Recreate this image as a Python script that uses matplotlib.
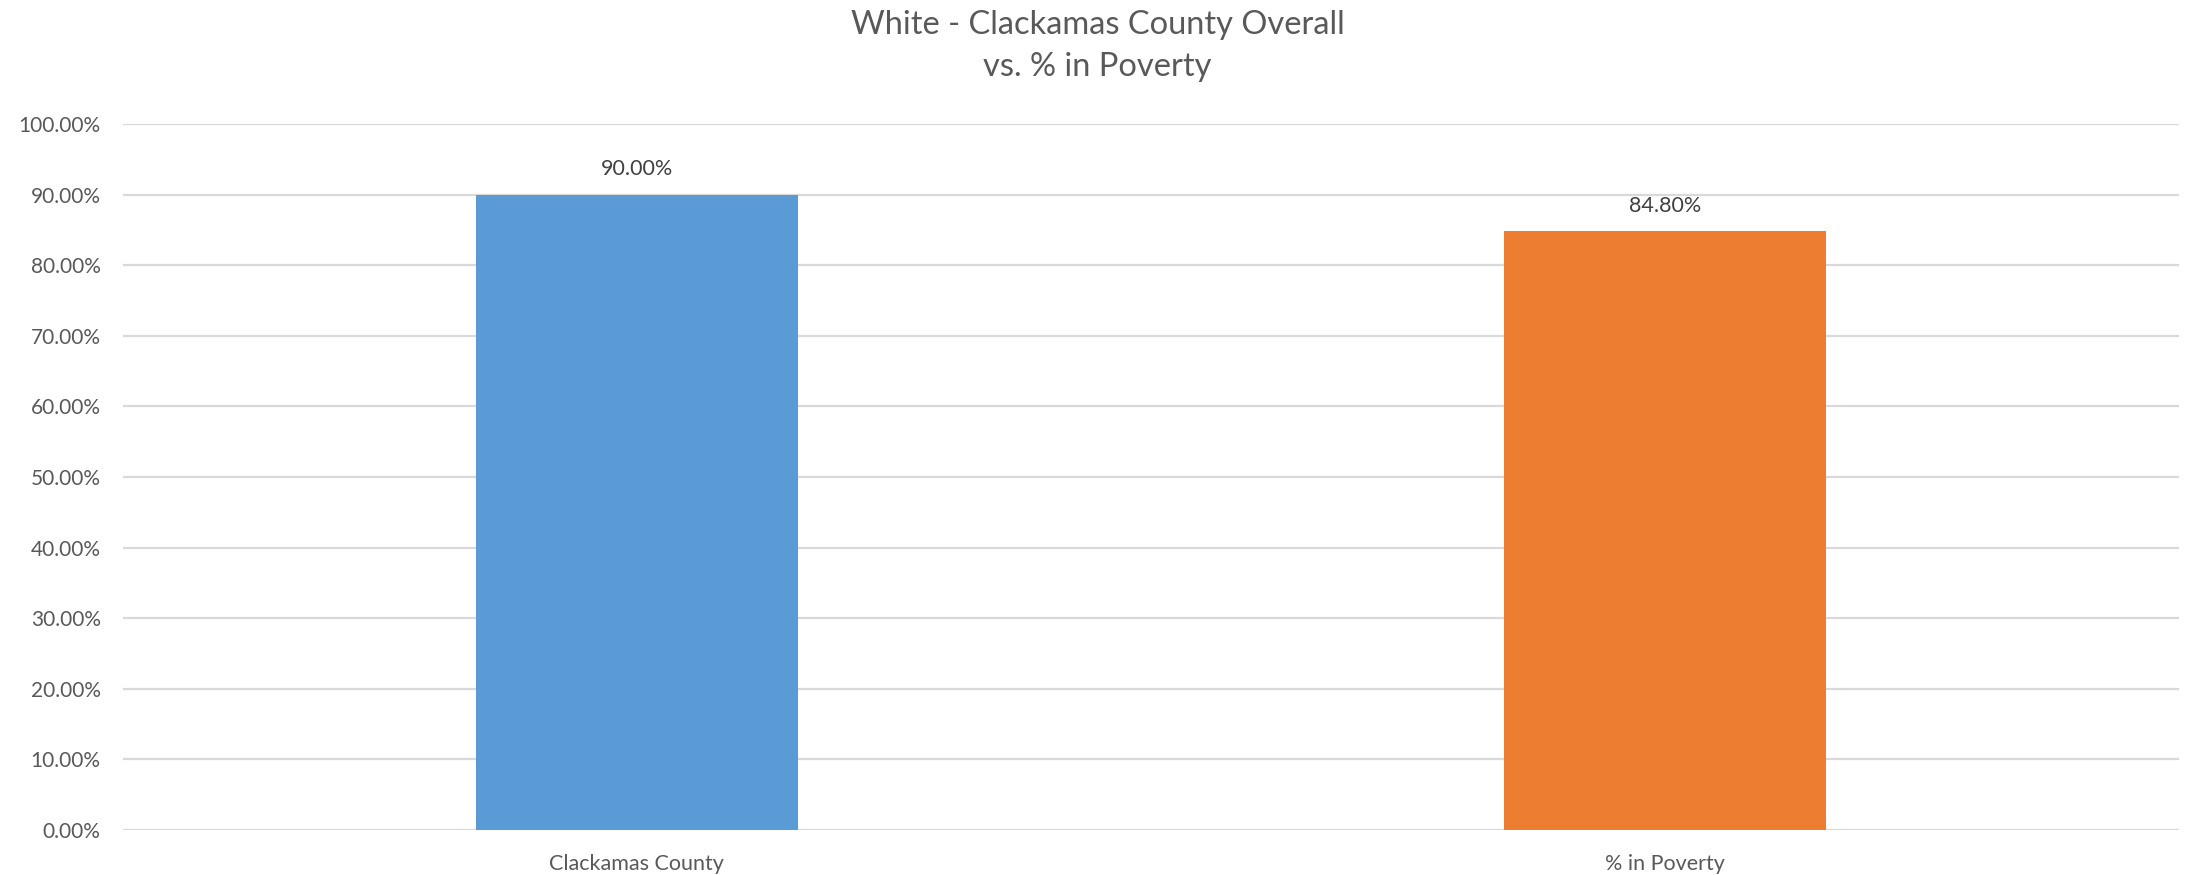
import matplotlib
matplotlib.use("Agg")
import matplotlib.pyplot as plt
from matplotlib.ticker import FuncFormatter

categories = ["Clackamas County", "% in Poverty"]
values = [0.90, 0.848]
bar_colors = ["#5B9BD5", "#ED7D31"]
yticks = [0.0, 0.1, 0.2, 0.3, 0.4, 0.5, 0.6, 0.7, 0.8, 0.9, 1.0]

plt.rcParams["font.family"] = ["Lato", "DejaVu Sans"]
text_color = "#595959"

fig = plt.figure(figsize=(21.95, 8.75), dpi=100)
ax = fig.add_axes([0.056, 0.0514, 0.9367, 0.8069])

x = range(len(categories))
bars = ax.bar(x, values, width=0.314, color=bar_colors, zorder=3)

for rect, v in zip(bars, values):
    ax.annotate(f"{v * 100:.2f}%",
                xy=(rect.get_x() + rect.get_width() / 2, v),
                xytext=(0, 11), textcoords="offset points",
                ha="center", va="bottom", fontsize=15.5, color="#404040")

ax.set_xlim(-0.5, 1.5)
ax.set_ylim(0, 1.0)
ax.set_yticks(yticks)
ax.yaxis.set_major_formatter(FuncFormatter(lambda v, _: f"{v * 100:.2f}%"))
ax.set_xticks(list(x))
ax.set_xticklabels(categories)

ax.grid(axis="y", color="#d9d9d9", linewidth=1.6, zorder=0)
for side in ["top", "right", "left", "bottom"]:
    ax.spines[side].set_visible(False)
ax.tick_params(axis="y", length=0, labelsize=15, colors=text_color, pad=16)
ax.tick_params(axis="x", length=0, labelsize=15.5, colors=text_color, pad=17)

fig.text(0.5, 0.988, "White - Clackamas County Overall\nvs. % in Poverty",
         ha="center", va="top", fontsize=23.5, color=text_color,
         linespacing=1.5)

fig.savefig("out.png", dpi=100)
